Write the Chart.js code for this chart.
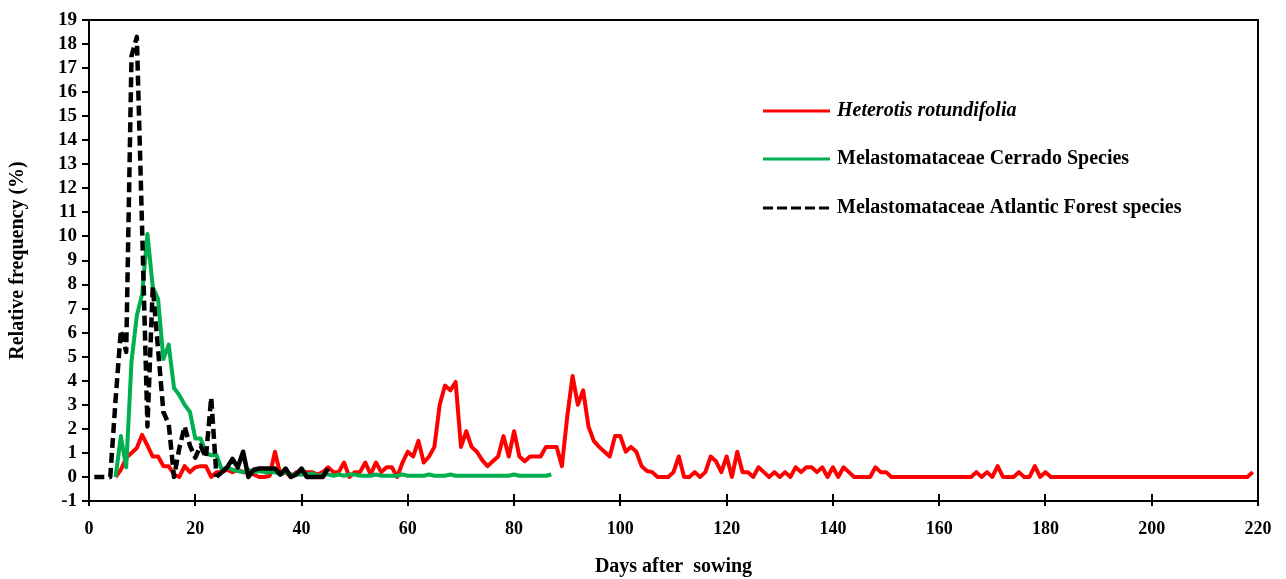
<!DOCTYPE html>
<html>
<head>
<meta charset="utf-8">
<script src="https://cdn.jsdelivr.net/npm/chart.js@4.4.1/dist/chart.umd.min.js"></script>
<style>
  body { margin: 0; background: #ffffff; }
</style>
</head>
<body>
<canvas id="ctx" width="1286" height="579"></canvas>
<script>
const $chart = document.getElementById('ctx')

// series labels (legend order)
const seriesLabels = [
  'Heterotis rotundifolia',
  'Melastomataceae Cerrado Species',
  'Melastomataceae Atlantic Forest species'
]

// Heterotis rotundifolia, one value per day starting at day 5
const redStart = 5
const redValues = [
  0, 0.3, 0.8, 1.0, 1.2, 1.75, 1.3, 0.85, 0.85, 0.45,        // 5-14
  0.45, 0.1, 0, 0.45, 0.2, 0.4, 0.45, 0.45, 0, 0.2,          // 15-24
  0.2, 0.3, 0.2, 0.3, 0.2, 0.2, 0.1, 0, 0, 0.05,             // 25-34
  1.05, 0.1, 0.2, 0, 0.2, 0.2, 0.2, 0.2, 0.1, 0.2,           // 35-44
  0.4, 0.2, 0.2, 0.6, 0, 0.2, 0.2, 0.6, 0.1, 0.6,            // 45-54
  0.2, 0.4, 0.4, 0, 0.6, 1.05, 0.85, 1.5, 0.6, 0.85,         // 55-64
  1.25, 3.0, 3.8, 3.6, 3.95, 1.25, 1.9, 1.25, 1.05, 0.7,     // 65-74
  0.45, 0.65, 0.85, 1.7, 0.85, 1.9, 0.85, 0.65, 0.85, 0.85,  // 75-84
  0.85, 1.25, 1.25, 1.25, 0.45, 2.5, 4.2, 3.0, 3.6, 2.1,     // 85-94
  1.5, 1.25, 1.05, 0.85, 1.7, 1.7, 1.05, 1.25, 1.05, 0.45,   // 95-104
  0.25, 0.2, 0, 0, 0, 0.2, 0.85, 0, 0, 0.2,                  // 105-114
  0, 0.2, 0.85, 0.65, 0.2, 0.85, 0, 1.05, 0.2, 0.2,          // 115-124
  0, 0.4, 0.2, 0, 0.2, 0, 0.2, 0, 0.4, 0.2,                  // 125-134
  0.4, 0.4, 0.2, 0.4, 0, 0.4, 0, 0.4, 0.2, 0,                // 135-144
  0, 0, 0, 0.4, 0.2, 0.2, 0, 0, 0, 0,                        // 145-154
  0, 0, 0, 0, 0, 0, 0, 0, 0, 0,                              // 155-164
  0, 0, 0.2, 0, 0.2, 0, 0.45, 0, 0, 0,                       // 165-174
  0.2, 0, 0, 0.45, 0, 0.2, 0, 0, 0, 0,                       // 175-184
  0, 0, 0, 0, 0, 0, 0, 0, 0, 0,                              // 185-194
  0, 0, 0, 0, 0, 0, 0, 0, 0, 0,                              // 195-204
  0, 0, 0, 0, 0, 0, 0, 0, 0, 0,                              // 205-214
  0, 0, 0, 0, 0.2                                            // 215-219
]

// Cerrado species, from day 5
const greenStart = 5
const greenValues = [
  0, 1.7, 0.4, 4.8, 6.7, 7.6, 10.1, 7.9, 7.4, 4.9,           // 5-14
  5.5, 3.7, 3.4, 3.0, 2.7, 1.6, 1.6, 1.0, 0.9, 0.9,          // 15-24
  0.3, 0.4, 0.3, 0.25, 0.2, 0.3, 0.2, 0.25, 0.2, 0.2,        // 25-34
  0.2, 0.1, 0.2, 0.1, 0.1, 0.1, 0.1, 0.15, 0.05, 0.1,        // 35-44
  0.1, 0.05, 0.1, 0.05, 0.1, 0.1, 0.05, 0.05, 0.05, 0.1,     // 45-54
  0.05, 0.05, 0.05, 0.05, 0.1, 0.05, 0.05, 0.05, 0.05, 0.1,  // 55-64
  0.05, 0.05, 0.05, 0.1, 0.05, 0.05, 0.05, 0.05, 0.05, 0.05, // 65-74
  0.05, 0.05, 0.05, 0.05, 0.05, 0.1, 0.05, 0.05, 0.05, 0.05, // 75-84
  0.05, 0.05, 0.1                                            // 85-87
]

// Atlantic Forest species, from day 1
const blackStart = 1
const blackValues = [
  0, 0, 0, 0, 3.2, 6.1, 5.2, 17.5, 18.3, 10.3,               // 1-10
  2.1, 7.9, 5.3, 2.7, 2.2, 0, 1.2, 2.1, 1.3, 0.8,            // 11-20
  1.3, 0.8, 3.3, 0, 0.2, 0.4, 0.75, 0.4, 1.05, 0,            // 21-30
  0.3, 0.35, 0.35, 0.35, 0.35, 0.1, 0.35, 0, 0.1, 0.35,      // 31-40
  0, 0, 0, 0, 0.35                                           // 41-45
]

const xTitle = 'Days after  sowing'
const yTitle = 'Relative frequency (%)'

const toPoints = (start, values) => values.map((v, i) => ({x: start + i, y: v}))

const serif = "'Liberation Serif', 'Times New Roman', serif"

// box round the plot + crossing ticks on the x axis
const plotFrame = {
  id: 'plotFrame',
  afterDraw: (chart) => {
    const {ctx} = chart
    const {top, bottom, left, right} = chart.chartArea
    ctx.save()
    ctx.strokeStyle = '#000'
    ctx.lineWidth = 2
    ctx.beginPath()
    ctx.moveTo(left, top)
    ctx.lineTo(right, top)
    ctx.lineTo(right, bottom)
    ctx.stroke()
    const xs = chart.scales.x
    xs.ticks.forEach(t => {
      const px = Math.round(xs.getPixelForValue(t.value))
      ctx.beginPath()
      ctx.moveTo(px, bottom - 7)
      ctx.lineTo(px, bottom)
      ctx.stroke()
    })
    ctx.restore()
  }
}

// legend drawn inside the plot like the original
const insideLegend = {
  id: 'insideLegend',
  afterDraw: (chart) => {
    const {ctx} = chart
    const x0 = 763, x1 = 830, tx = 837
    const rows = [111, 159, 208]
    ctx.save()
    chart.data.datasets.forEach((ds, i) => {
      const y = rows[i]
      ctx.beginPath()
      ctx.strokeStyle = ds.borderColor
      ctx.lineWidth = 3
      ctx.setLineDash(ds.borderDash ? [10, 4] : [])
      ctx.moveTo(x0, y)
      ctx.lineTo(x1, y)
      ctx.stroke()
      ctx.setLineDash([])
      ctx.fillStyle = '#000'
      ctx.textBaseline = 'middle'
      ctx.font = (i === 0 ? 'italic ' : '') + 'bold 20px ' + serif
      ctx.fillText(ds.label, tx, y)
    })
    ctx.restore()
  }
}

const data = {
  datasets: [
    {
      label: seriesLabels[0],
      data: toPoints(redStart, redValues),
      borderColor: '#ff0000',
      borderWidth: 4,
      order: 3
    },
    {
      label: seriesLabels[1],
      data: toPoints(greenStart, greenValues),
      borderColor: '#00b050',
      borderWidth: 4,
      order: 2
    },
    {
      label: seriesLabels[2],
      data: toPoints(blackStart, blackValues),
      borderColor: '#000000',
      borderWidth: 4.5,
      borderDash: [10, 5],
      segment: {
        borderDash: c => c.p0.parsed.x >= 24 ? [] : [10, 5]
      },
      order: 1
    }
  ]
}

const options = {
  type: 'line',
  data: data,
  options: {
    responsive: false,
    animation: false,
    devicePixelRatio: 1,
    layout: {
      padding: {top: 20, right: 28, left: 0, bottom: 0}
    },
    elements: {
      point: {radius: 0},
      line: {tension: 0, fill: false, borderCapStyle: 'butt', borderJoinStyle: 'round'}
    },
    scales: {
      x: {
        type: 'linear',
        min: 0,
        max: 220,
        afterFit: s => { s.height = 78 },
        ticks: {
          stepSize: 20,
          color: '#000',
          padding: 13,
          maxRotation: 0,
          autoSkip: false,
          font: {family: serif, size: 18, weight: 'bold'}
        },
        grid: {
          drawOnChartArea: false,
          drawTicks: true,
          tickLength: 5,
          color: '#000',
          lineWidth: 2
        },
        border: {color: '#000', width: 2},
        title: {
          display: true,
          text: xTitle,
          color: '#000',
          padding: {top: 0, bottom: 0},
          font: {family: serif, size: 20, weight: 'bold'}
        }
      },
      y: {
        type: 'linear',
        min: -1,
        max: 19,
        afterFit: s => { s.width = 89 },
        ticks: {
          stepSize: 1,
          color: '#000',
          padding: 5,
          autoSkip: false,
          font: {family: serif, size: 19, weight: 'bold'}
        },
        grid: {
          drawOnChartArea: false,
          drawTicks: true,
          tickLength: 7,
          color: '#000',
          lineWidth: 2
        },
        border: {color: '#000', width: 2},
        title: {
          display: true,
          text: yTitle,
          color: '#000',
          padding: {top: 6, bottom: 0},
          font: {family: serif, size: 20, weight: 'bold'}
        }
      }
    },
    plugins: {
      legend: {display: false},
      tooltip: {enabled: false}
    }
  },
  plugins: [plotFrame, insideLegend]
}

var chart = new Chart($chart, options)
</script>
</body>
</html>
